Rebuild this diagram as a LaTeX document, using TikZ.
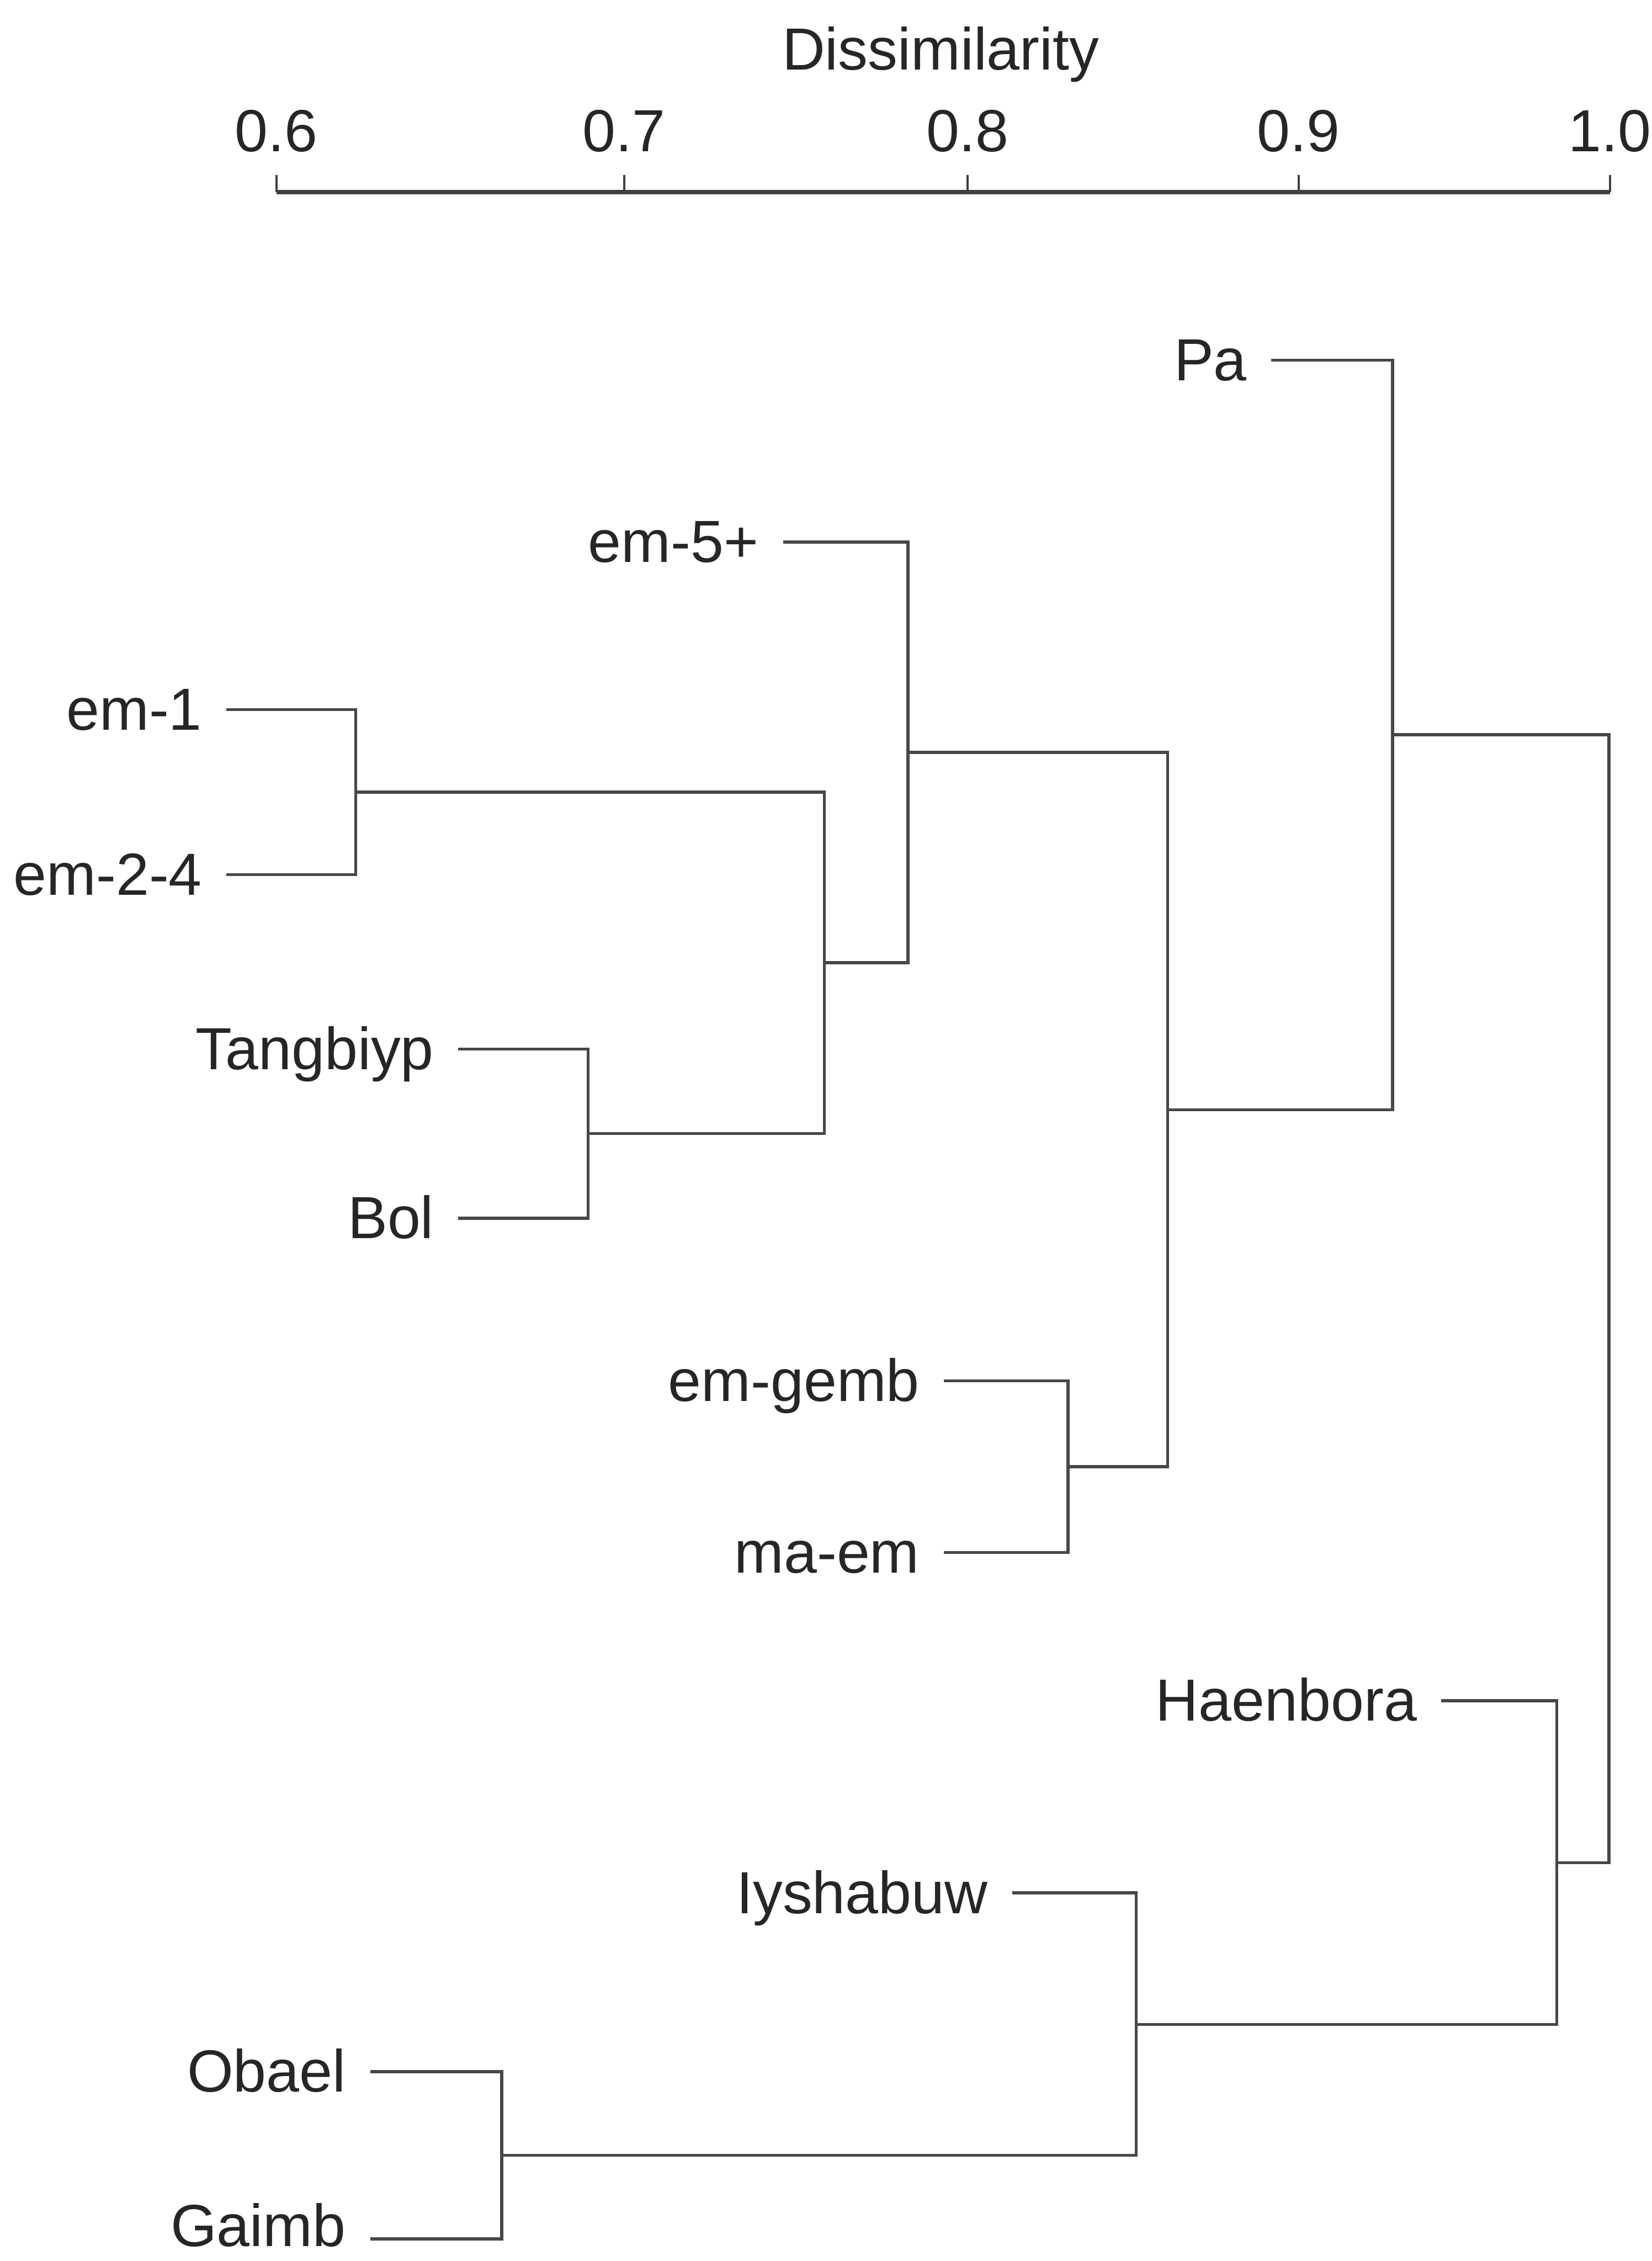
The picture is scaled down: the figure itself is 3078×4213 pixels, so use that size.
\documentclass[tikz,border=0pt]{standalone}
\usepackage{fontspec}
\setmainfont{Liberation Sans}
\begin{document}
\begin{tikzpicture}[x=0.01cm,y=-0.01cm,
  lab/.style={font=\fontsize{31.5}{36}\selectfont, text=black!85, inner sep=0pt, anchor=base east},
  ticklab/.style={font=\fontsize{31.5}{36}\selectfont, text=black!85, inner sep=0pt, anchor=base},
  branch/.style={draw=black!72, line width=1.6pt},
  axisline/.style={draw=black!75, line width=2.4pt},
  tickline/.style={draw=black!75, line width=1.1pt}]
\useasboundingbox (0,0) rectangle (3078,4213);

% axis
\node[ticklab] (title) at (1753,130) {Dissimilarity};
\coordinate (a6) at (515,358);
\coordinate (a7) at (1163,358);
\coordinate (a8) at (1803,358);
\coordinate (a9) at (2420,358);
\coordinate (a10) at (3000,358);
\draw[axisline] (a6) -- (a10);
\foreach \p/\t in {a6/0.6,a7/0.7,a8/0.8,a9/0.9,a10/1.0}{
  \draw[tickline] (\p) -- ++(0,-32);
  \node[ticklab] (lab\p) at ([yshift=0.76cm]\p) {\t};
}

% leaf labels
\node[lab] (tpa) at (2324,709) {Pa};
\node[lab] (te5) at (1414,1048) {em-5+};
\node[lab] (te1) at (377,1360) {em-1};
\node[lab] (te24) at (377,1668) {em-2-4};
\node[lab] (ttang) at (809,1993) {Tangbiyp};
\node[lab] (tbol) at (809,2308) {Bol};
\node[lab] (tgemb) at (1714,2611) {em-gemb};
\node[lab] (tmaem) at (1714,2931) {ma-em};
\node[lab] (thaen) at (2641,3207) {Haenbora};
\node[lab] (tiysh) at (1841,3565) {Iyshabuw};
\node[lab] (tobael) at (645,3898) {Obael};
\node[lab] (tgaimb) at (645,4186) {Gaimb};

% leaf line starts
\coordinate (pa) at (2369,671);
\coordinate (e5) at (1459,1010);
\coordinate (e1) at (422,1322);
\coordinate (e24) at (422,1630);
\coordinate (tang) at (854,1955);
\coordinate (bol) at (854,2270);
\coordinate (gemb) at (1759,2573);
\coordinate (maem) at (1759,2893);
\coordinate (haen) at (2686,3169);
\coordinate (iysh) at (1886,3527);
\coordinate (obael) at (690,3860);
\coordinate (gaimb) at (690,4172);

% merge points
\coordinate (m1) at (663,1476);
\coordinate (m2) at (1096,2112);
\coordinate (m3) at (1536,1794);
\coordinate (m4) at (1692,1402);
\coordinate (m5) at (1990,2733);
\coordinate (m6) at (2176,2068);
\coordinate (m7) at (2595,1369);
\coordinate (m8) at (935,4016);
\coordinate (m9) at (2117,3772);
\coordinate (m10) at (2901,3471);
\coordinate (root) at (2998,2420);

% branches
\draw[branch] (e1) -| (m1);
\draw[branch] (e24) -| (m1);
\draw[branch] (tang) -| (m2);
\draw[branch] (bol) -| (m2);
\draw[branch] (m1) -| (m3);
\draw[branch] (m2) -| (m3);
\draw[branch] (e5) -| (m4);
\draw[branch] (m3) -| (m4);
\draw[branch] (gemb) -| (m5);
\draw[branch] (maem) -| (m5);
\draw[branch] (m4) -| (m6);
\draw[branch] (m5) -| (m6);
\draw[branch] (pa) -| (m7);
\draw[branch] (m6) -| (m7);
\draw[branch] (obael) -| (m8);
\draw[branch] (gaimb) -| (m8);
\draw[branch] (iysh) -| (m9);
\draw[branch] (m8) -| (m9);
\draw[branch] (haen) -| (m10);
\draw[branch] (m9) -| (m10);
\draw[branch] (m7) -| (root);
\draw[branch] (m10) -| (root);
\end{tikzpicture}
\end{document}
